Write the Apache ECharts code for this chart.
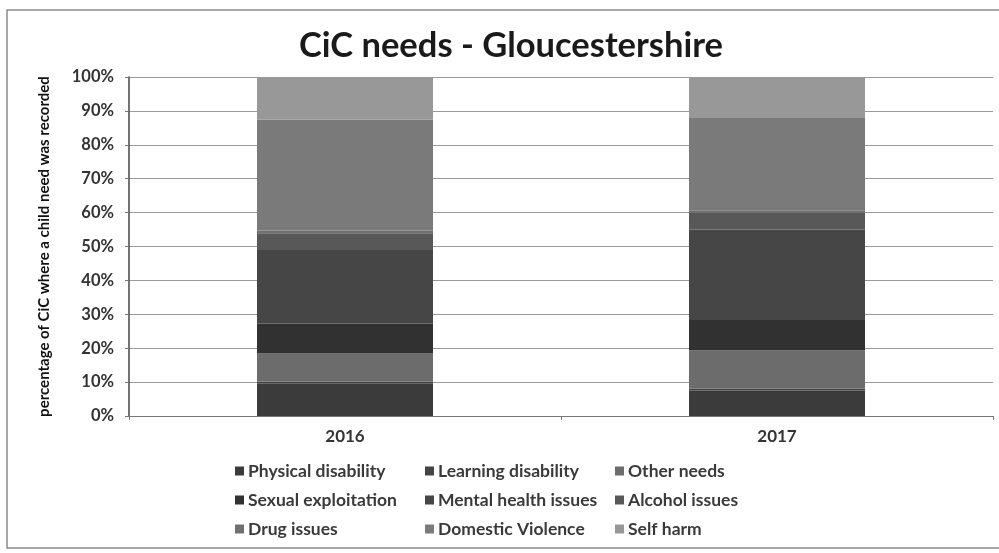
<!DOCTYPE html>
<html>
<head>
<meta charset="utf-8">
<title>CiC needs - Gloucestershire</title>
<script src="https://cdn.jsdelivr.net/npm/echarts@6/dist/echarts.min.js"></script>
<style>
  html, body { margin: 0; padding: 0; background: #ffffff; }
  #chart { width: 999px; height: 553px; }
</style>
</head>
<body>
<div id="chart"></div>
<script>
// Share of children in care (%) with each recorded need, by year
var years = ['2016', '2017'];
var needNames = [
  'Physical disability', 'Learning disability', 'Other needs',
  'Sexual exploitation', 'Mental health issues', 'Alcohol issues',
  'Drug issues', 'Domestic Violence', 'Self harm'
];
var physicalDisability = [9.5, 7.5];
var learningDisability = [0.6, 0.6];
var otherNeeds = [8.3, 11.3];
var sexualExploitation = [8.9, 8.9];
var mentalHealthIssues = [21.7, 26.7];
var alcoholIssues = [4.9, 4.9];
var drugIssues = [0.8, 0.8];
var domesticViolence = [32.7, 27.4];
var selfHarm = [12.6, 11.9];
var yTickLabels = ['0%', '10%', '20%', '30%', '40%', '50%', '60%', '70%', '80%', '90%', '100%'];

var needValues = [
  physicalDisability, learningDisability, otherNeeds,
  sexualExploitation, mentalHealthIssues, alcoholIssues,
  drugIssues, domesticViolence, selfHarm
];
var needColours = [
  '#3b3b3b', '#444444', '#6c6c6c',
  '#313131', '#464646', '#585858',
  '#707070', '#7a7a7a', '#989898'
];

var font = 'Lato, "Open Sans", "DejaVu Sans", sans-serif';

var series = needNames.map(function (name, i) {
  return {
    name: name,
    type: 'bar',
    stack: 'needs',
    barWidth: 176,
    data: needValues[i],
    itemStyle: { color: needColours[i] },
    emphasis: { disabled: true }
  };
});

function legendColumn(left, names) {
  return {
    orient: 'vertical',
    left: left,
    top: 457,
    itemWidth: 9,
    itemHeight: 9,
    itemGap: 11,
    icon: 'rect',
    data: names,
    selectedMode: false,
    textStyle: { fontFamily: font, fontSize: 17.5, fontWeight: 'bold', color: '#3a3a3a', padding: [0, 0, 0, -1] }
  };
}

var chart = echarts.init(document.getElementById('chart'));
chart.setOption({
  animation: false,
  backgroundColor: '#ffffff',
  title: {
    text: 'CiC needs - Gloucestershire',
    left: 506,
    textAlign: 'center',
    top: 23,
    textStyle: { fontFamily: font, fontSize: 34.5, fontWeight: 'bold', color: '#1a1a1a' }
  },
  graphic: [{
    type: 'rect',
    shape: { x: 7, y: 10, width: 1000, height: 538 },
    style: { fill: 'none', stroke: '#8a8a8a', lineWidth: 1.5 },
    silent: true
  }],
  legend: [
    legendColumn(230, [needNames[0], needNames[3], needNames[6]]),
    legendColumn(420, [needNames[1], needNames[4], needNames[7]]),
    legendColumn(610, [needNames[2], needNames[5], needNames[8]])
  ],
  grid: { left: 129, right: 6, top: 77, bottom: 137 },
  xAxis: {
    type: 'category',
    data: years,
    axisLine: { lineStyle: { color: '#777777', width: 1.2 } },
    axisTick: { show: true, length: 4, lineStyle: { color: '#777777' } },
    axisLabel: { fontFamily: font, fontSize: 17, fontWeight: 'bold', color: '#333333', margin: 12 }
  },
  yAxis: {
    type: 'value',
    min: 0,
    max: 100,
    interval: 10,
    name: 'percentage of CiC where a child need was recorded',
    nameLocation: 'middle',
    nameGap: 77,
    nameTextStyle: { fontFamily: font, fontSize: 15, fontWeight: 'bold', color: '#111111' },
    axisLine: { show: true, lineStyle: { color: '#444444', width: 1.5 } },
    axisTick: { show: true, length: 4, lineStyle: { color: '#777777' } },
    splitLine: { lineStyle: { color: '#9a9a9a', width: 1.2 } },
    axisLabel: {
      fontFamily: font, fontSize: 16.5, fontWeight: 'bold', color: '#333333', margin: 15,
      formatter: function (v) { return yTickLabels[Math.round(v / 10)]; }
    }
  },
  series: series
});
</script>
</body>
</html>
